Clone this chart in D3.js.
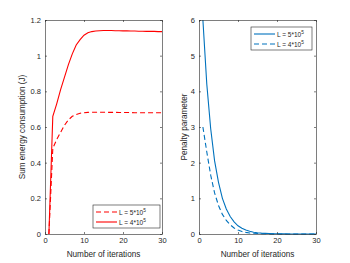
<!DOCTYPE html>
<html>
<head>
<meta charset="utf-8">
<script src="https://cdn.jsdelivr.net/npm/d3@7"></script>
<style>
  body { margin: 0; background: #fff; }
  text { font-family: "Liberation Sans", Arial, sans-serif; fill: #262626; }
</style>
</head>
<body>
<svg id="chart" width="350" height="263"></svg>
<script>
// iterations 1..30
const iterations = d3.range(1, 31);

// left panel: sum energy consumption (J)
const energyL5 = [0, 0.48, 0.53, 0.57, 0.61, 0.64, 0.66, 0.67, 0.677, 0.68, 0.682, 0.683, 0.683, 0.683, 0.683,
  0.682, 0.682, 0.682, 0.681, 0.681, 0.681, 0.681, 0.68, 0.68, 0.68, 0.68, 0.68, 0.68, 0.68, 0.68];
const energyL4 = [0, 0.66, 0.73, 0.81, 0.88, 0.95, 1.01, 1.06, 1.09, 1.115, 1.128, 1.135, 1.138, 1.14, 1.141,
  1.141, 1.141, 1.14, 1.14, 1.139, 1.139, 1.138, 1.138, 1.137, 1.137, 1.136, 1.136, 1.136, 1.135, 1.135];

// right panel: penalty parameter
const penaltyL5 = [6, 4.2, 2.95, 2.05, 1.45, 1.0, 0.7, 0.49, 0.34, 0.23, 0.16, 0.11, 0.075, 0.05, 0.035,
  0.025, 0.018, 0.012, 0.008, 0.006, 0.004, 0.003, 0.002, 0.002, 0.001, 0.001, 0.001, 0.001, 0.001, 0.001];
const penaltyL4 = [3.0, 2.3, 1.65, 1.15, 0.8, 0.55, 0.38, 0.26, 0.17, 0.11, 0.07, 0.045, 0.03, 0.02, 0.013,
  0.009, 0.006, 0.004, 0.003, 0.002, 0.001, 0.001, 0.001, 0, 0, 0, 0, 0, 0, 0];

const xTicks = [0, 10, 20, 30];
const energyTicks = [0, 0.2, 0.4, 0.6, 0.8, 1, 1.2];
const penaltyTicks = [0, 1, 2, 3, 4, 5, 6];

const red = "#ff0000";
const blue = "#0072bd";
const axisColor = "#262626";

const svg = d3.select("#chart");

function panel(opt) {
  const { left, right, top, bottom } = opt;
  const x = d3.scaleLinear().domain([0, 30]).range([left, right]);
  const y = d3.scaleLinear().domain(opt.yDomain).range([bottom, top]);
  const g = svg.append("g");

  // box
  g.append("rect")
    .attr("x", left).attr("y", top)
    .attr("width", right - left).attr("height", bottom - top)
    .attr("fill", "#fff");

  // lines
  const line = d3.line().x((d, i) => x(iterations[i])).y(d => y(d));
  opt.series.forEach(s => {
    g.append("path")
      .datum(s.values)
      .attr("d", line)
      .attr("fill", "none")
      .attr("stroke", s.color)
      .attr("stroke-width", 1.1)
      .attr("stroke-dasharray", s.dash ? "5,3" : null);
  });

  // axes (ticks inward, box on)
  const tick = 2;
  const bx = g.append("g").attr("transform", `translate(0,${bottom})`)
    .call(d3.axisBottom(x).tickValues(xTicks).tickSizeInner(-tick).tickSizeOuter(0).tickPadding(4));
  const tx = g.append("g").attr("transform", `translate(0,${top})`)
    .call(d3.axisTop(x).tickValues(xTicks).tickSizeInner(-tick).tickSizeOuter(0).tickFormat(""));
  const ly = g.append("g").attr("transform", `translate(${left},0)`)
    .call(d3.axisLeft(y).tickValues(opt.yTicks).tickSizeInner(-tick).tickSizeOuter(0).tickPadding(4)
      .tickFormat(d3.format("")));
  const ry = g.append("g").attr("transform", `translate(${right},0)`)
    .call(d3.axisRight(y).tickValues(opt.yTicks).tickSizeInner(-tick).tickSizeOuter(0).tickFormat(""));
  [bx, tx, ly, ry].forEach(a => {
    a.selectAll("path").attr("stroke", axisColor).attr("stroke-width", 0.6);
    a.selectAll("line").attr("stroke", axisColor).attr("stroke-width", 0.6);
    a.selectAll("text").attr("font-size", 7.5).attr("fill", axisColor)
      .attr("font-family", "Liberation Sans, Arial, sans-serif");
  });

  // axis labels
  g.append("text")
    .attr("x", (left + right) / 2).attr("y", bottom + 23)
    .attr("text-anchor", "middle").attr("font-size", 8.2)
    .text("Number of iterations");
  g.append("text")
    .attr("transform", `translate(${opt.yLabelX},${(top + bottom) / 2}) rotate(-90)`)
    .attr("text-anchor", "middle").attr("font-size", 8.2)
    .text(opt.yLabel);

  // legend
  const lg = opt.legend;
  g.append("rect")
    .attr("x", lg.x).attr("y", lg.y).attr("width", lg.w).attr("height", 23)
    .attr("fill", "#fff").attr("stroke", axisColor).attr("stroke-width", 0.6);
  lg.items.forEach((it, i) => {
    const cy = lg.y + 7 + i * 10;
    g.append("line")
      .attr("x1", lg.x + 3).attr("x2", lg.x + 24)
      .attr("y1", cy).attr("y2", cy)
      .attr("stroke", it.color).attr("stroke-width", 1.1)
      .attr("stroke-dasharray", it.dash ? "5,3" : null);
    const t = g.append("text")
      .attr("x", lg.x + 26).attr("y", cy + 2.5)
      .attr("font-size", 6.5);
    t.append("tspan").text(it.label);
    t.append("tspan").attr("dy", -2.5).attr("font-size", 4.8).text("5");
  });
}

panel({
  left: 45, right: 162, top: 20, bottom: 234,
  yDomain: [0, 1.2], yTicks: energyTicks,
  yLabel: "Sum energy consumption (J)", yLabelX: 25,
  series: [
    { values: energyL5, color: red, dash: true },
    { values: energyL4, color: red, dash: false }
  ],
  legend: {
    x: 93, y: 205, w: 67,
    items: [
      { label: "L = 5*10", color: red, dash: true },
      { label: "L = 4*10", color: red, dash: false }
    ]
  }
});

panel({
  left: 199, right: 316, top: 20, bottom: 234,
  yDomain: [0, 6], yTicks: penaltyTicks,
  yLabel: "Penalty parameter", yLabelX: 187,
  series: [
    { values: penaltyL5, color: blue, dash: false },
    { values: penaltyL4, color: blue, dash: true }
  ],
  legend: {
    x: 251, y: 27, w: 61,
    items: [
      { label: "L = 5*10", color: blue, dash: false },
      { label: "L = 4*10", color: blue, dash: true }
    ]
  }
});
</script>
</body>
</html>
